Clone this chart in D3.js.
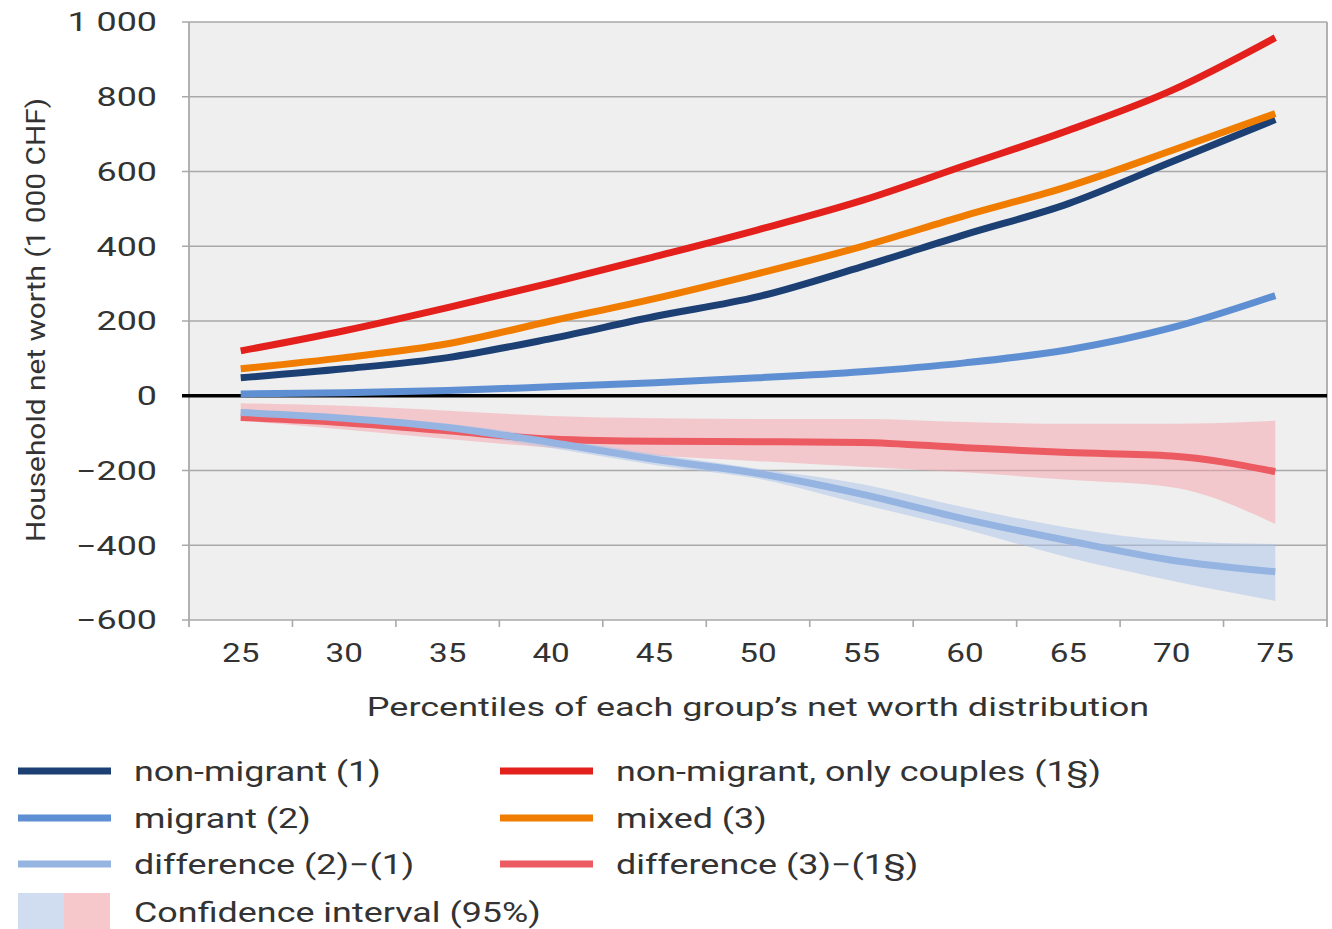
<!DOCTYPE html>
<html><head><meta charset="utf-8">
<script src="https://cdn.jsdelivr.net/npm/d3@7"></script>
<style>
body{margin:0;background:#fff;}
text{font-family:Roboto,"Noto Sans",sans-serif;fill:#333;}
</style></head>
<body><svg id="c" width="1332" height="929"></svg>
<script>
const percentiles = [25,30,35,40,45,50,55,60,65,70,75];
const nonMigrant  = [48,72,102,153,212,265,345,431,514,626,739];
const migrant     = [5,8,14,24,35,48,64,88,123,182,268];
const couples     = [120,174,236,302,372,444,522,616,710,817,958];
const mixed       = [72,102,139,200,260,327,399,482,560,656,755];
const diff21      = [-45,-60,-85,-125,-170,-208,-263,-330,-388,-440,-471];
const diff21Lo    = [-52,-70,-98,-140,-185,-222,-290,-357,-433,-495,-549];
const diff21Hi    = [-38,-52,-74,-112,-156,-195,-236,-299,-353,-388,-397];
const diff31      = [-58,-72,-94,-116,-122,-123,-125,-139,-152,-161,-203];
const diff31Lo    = [-67,-90,-116,-139,-160,-175,-190,-205,-225,-245,-343];
const diff31Hi    = [-20,-27,-40,-54,-60,-62,-62,-70,-75,-75,-67];
const yTicks      = [-600,-400,-200,0,200,400,600,800,1000];
const yTickLabels = ["−600","−400","−200","0","200","400","600","800","1 000"];

const svg = d3.select("#c");
const L=189, R=1327, T=22, B=620;
const x = d3.scaleBand().domain(percentiles).range([L,R]);
const cx = d => x(d)+x.bandwidth()/2;
const y = d3.scaleLinear().domain([-600,1000]).range([B,T]);

function label(parent, tx, ty, str, size, anchor, k, rot){
  const g = parent.append("g").attr("transform",`translate(${tx},${ty})${rot?" rotate("+rot+")":""} scale(${k},1)`);
  return g.append("text").attr("x",0).attr("y",0).attr("dy","0.36em").attr("text-anchor",anchor)
    .attr("font-size",size).text(str);
}

svg.append("rect").attr("x",L).attr("y",T).attr("width",R-L).attr("height",B-T).attr("fill","#efefef");
svg.append("g").selectAll("line").data(yTicks).join("line")
  .attr("x1",L-7).attr("x2",R).attr("y1",d=>y(d)).attr("y2",d=>y(d))
  .attr("stroke","#a9a9a9").attr("stroke-width",1.6);
svg.append("line").attr("x1",L).attr("x2",L).attr("y1",T).attr("y2",B+7).attr("stroke","#a9a9a9").attr("stroke-width",1.8);
svg.append("line").attr("x1",R).attr("x2",R).attr("y1",T).attr("y2",B+7).attr("stroke","#a9a9a9").attr("stroke-width",1.8);
const bounds = percentiles.map(p=>x(p));
svg.append("g").selectAll("line").data(bounds.slice(1)).join("line")
  .attr("x1",d=>d).attr("x2",d=>d).attr("y1",B).attr("y2",B+7)
  .attr("stroke","#a9a9a9").attr("stroke-width",1.6);

const gy = svg.append("g");
yTicks.forEach((t,i)=>label(gy,157,y(t),yTickLabels[i],26,"end",1.38));
const gx = svg.append("g");
percentiles.forEach(p=>label(gx,cx(p),653,p,26,"middle",1.28));
label(svg,758,707,"Percentiles of each group’s net worth distribution",26,"middle",1.385);
label(svg,36,320,"Household net worth (1 000 CHF)",25,"middle",1.195,-90);

const curve = d3.curveMonotoneX;
const area = (lo,hi) => d3.area().x((d,i)=>cx(percentiles[i])).y0((d,i)=>y(lo[i])).y1((d,i)=>y(hi[i])).curve(curve)(percentiles);
svg.append("path").attr("d",area(diff31Lo,diff31Hi)).attr("fill","#f7a2a9").attr("fill-opacity",0.5);
svg.append("path").attr("d",area(diff21Lo,diff21Hi)).attr("fill","#a9c3ea").attr("fill-opacity",0.5);

svg.append("line").attr("x1",L-7).attr("x2",R).attr("y1",y(0)).attr("y2",y(0)).attr("stroke","#000").attr("stroke-width",3.5);

const series = [
  {name:"difference (3)−(1§)", vals:diff31, color:"#ec5b62"},
  {name:"difference (2)−(1)", vals:diff21, color:"#95b4e2"},
  {name:"migrant (2)", vals:migrant, color:"#5f8fd3"},
  {name:"non-migrant (1)", vals:nonMigrant, color:"#1c3f74"},
  {name:"mixed (3)", vals:mixed, color:"#f07d00"},
  {name:"non-migrant, only couples (1§)", vals:couples, color:"#e3201b"}
];
const line = d3.line().x((d,i)=>cx(percentiles[i])).y(d=>y(d)).curve(curve);
svg.append("g").selectAll("path").data(series).join("path")
  .attr("d",d=>line(d.vals)).attr("fill","none").attr("stroke",d=>d.color).attr("stroke-width",7);

const legend = [
  {name:"non-migrant (1)", color:"#1c3f74", col:0, row:0},
  {name:"migrant (2)", color:"#5f8fd3", col:0, row:1},
  {name:"difference (2)−(1)", color:"#95b4e2", col:0, row:2},
  {name:"non-migrant, only couples (1§)", color:"#e3201b", col:1, row:0},
  {name:"mixed (3)", color:"#f07d00", col:1, row:1},
  {name:"difference (3)−(1§)", color:"#ec5b62", col:1, row:2}
];
const colX=[18,500], rowY=[771,818,864];
const lgG = svg.append("g");
legend.forEach(d=>{
  lgG.append("line").attr("x1",colX[d.col]).attr("x2",colX[d.col]+93)
    .attr("y1",rowY[d.row]).attr("y2",rowY[d.row]).attr("stroke",d.color).attr("stroke-width",7);
  label(lgG,colX[d.col]+116,rowY[d.row],d.name,27,"start",1.33);
});
svg.append("rect").attr("x",18).attr("y",893).attr("width",46).attr("height",36).attr("fill","#d0dcef");
svg.append("rect").attr("x",64).attr("y",893).attr("width",46).attr("height",36).attr("fill","#f6c7cb");
label(svg,134,912,"Confidence interval (95%)",27,"start",1.33);
</script></body></html>
